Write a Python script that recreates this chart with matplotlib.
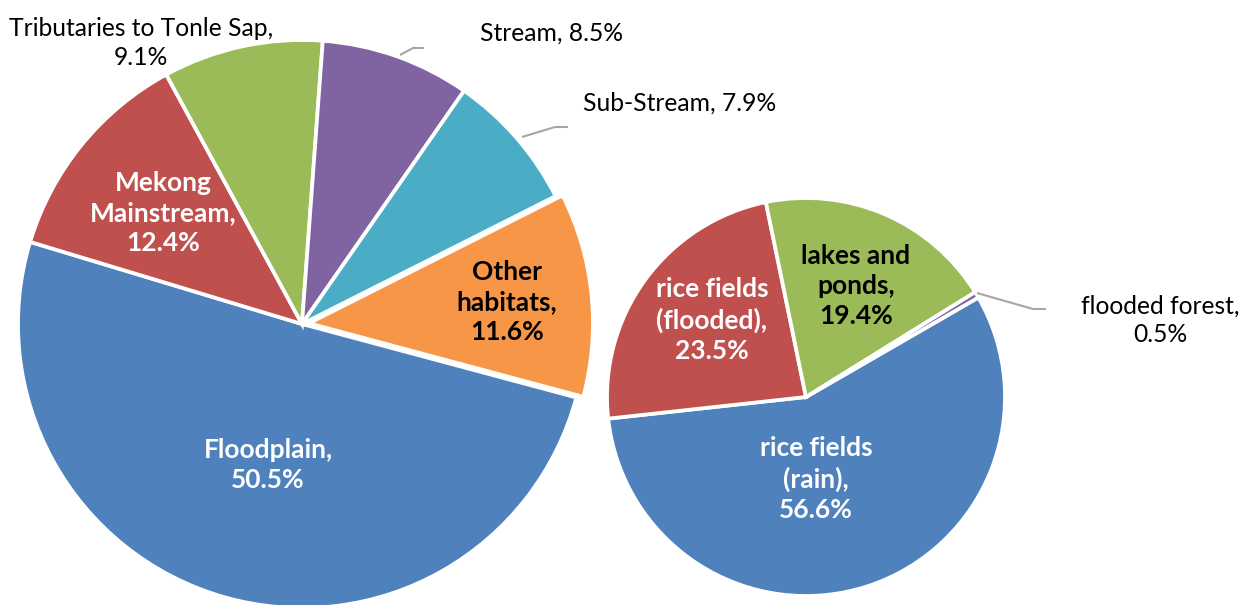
import matplotlib
matplotlib.use("Agg")
import matplotlib.pyplot as plt
from matplotlib.patches import Rectangle

# ---- data ----
left_labels = ["Floodplain", "Mekong Mainstream", "Tributaries to Tonle Sap",
               "Stream", "Sub-Stream", "Other habitats"]
left_values = [50.5, 12.4, 9.1, 8.5, 7.9, 11.6]
left_colors = ["#4F81BD", "#C0504D", "#9BBB59", "#8064A2", "#4BACC6", "#F79646"]

right_labels = ["rice fields (rain)", "rice fields (flooded)", "lakes and ponds", "flooded forest"]
right_values = [56.6, 23.5, 19.4, 0.5]
right_colors = ["#4F81BD", "#C0504D", "#9BBB59", "#8064A2"]

W, H = 1249, 605
FONT = "Lato"
FS_B = 19
FS_R = 17.7

fig = plt.figure(figsize=(W / 100, H / 100), dpi=100)
ax = fig.add_axes([0, 0, 1, 1])


def Y(y):
    return H - y


wp = dict(edgecolor="white", linewidth=2.7)

# left pie
lw, _ = ax.pie(left_values, colors=left_colors, startangle=-15, counterclock=False,
               center=(302, Y(324)), radius=284, wedgeprops=wp,
               explode=[0, 0, 0, 0, 0, 7], frame=True)
clip = Rectangle((0, 0), 585, H, transform=ax.transData)
for w in lw:
    w.set_clip_path(clip)

# right pie
ax.pie(right_values, colors=right_colors, startangle=30, counterclock=False,
       center=(806, Y(397)), radius=199, wedgeprops=wp, frame=True)

ax.set_xlim(0, W)
ax.set_ylim(0, H)
ax.set_aspect("equal")
ax.axis("off")


def lab(x, y, s, color="black", bold=False, ha="center"):
    ax.text(x, Y(y), s, ha=ha, va="center", color=color,
            fontsize=FS_B if bold else FS_R,
            fontweight="bold" if bold else "normal", family=FONT,
            linespacing=1.3, multialignment="center")


def pct(v):
    return f"{v:.1f}%"


# left labels
lab(268, 465, f"{left_labels[0]},\n{pct(left_values[0])}", "white", True)
lab(163, 213, "Mekong\nMainstream,\n" + pct(left_values[1]), "white", True)
lab(507, 302, "Other\nhabitats,\n" + pct(left_values[5]), "black", True)
lab(141, 43, f"{left_labels[2]},\n{pct(left_values[2])}")
lab(480, 33, f"{left_labels[3]}, {pct(left_values[3])}", ha="left")
lab(583, 103, f"{left_labels[4]}, {pct(left_values[4])}", ha="left")

# right labels
lab(816, 479, "rice fields\n(rain),\n" + pct(right_values[0]), "white", True)
lab(712, 320, "rice fields\n(flooded),\n" + pct(right_values[1]), "white", True)
lab(856, 286, "lakes and\nponds,\n" + pct(right_values[2]), "black", True)
lab(1160, 320, f"{right_labels[3]},\n{pct(right_values[3])}")

# leader lines
lc = "#A6A6A6"
for xs, ys in [([400, 413, 424], [55, 48, 48]),
               ([522, 555, 568], [137, 127, 127]),
               ([977, 1033, 1046], [293, 309, 309])]:
    ax.plot(xs, [Y(v) for v in ys], color=lc, lw=1.5, solid_capstyle="butt")

fig.savefig("out.png", dpi=100, facecolor="white")
